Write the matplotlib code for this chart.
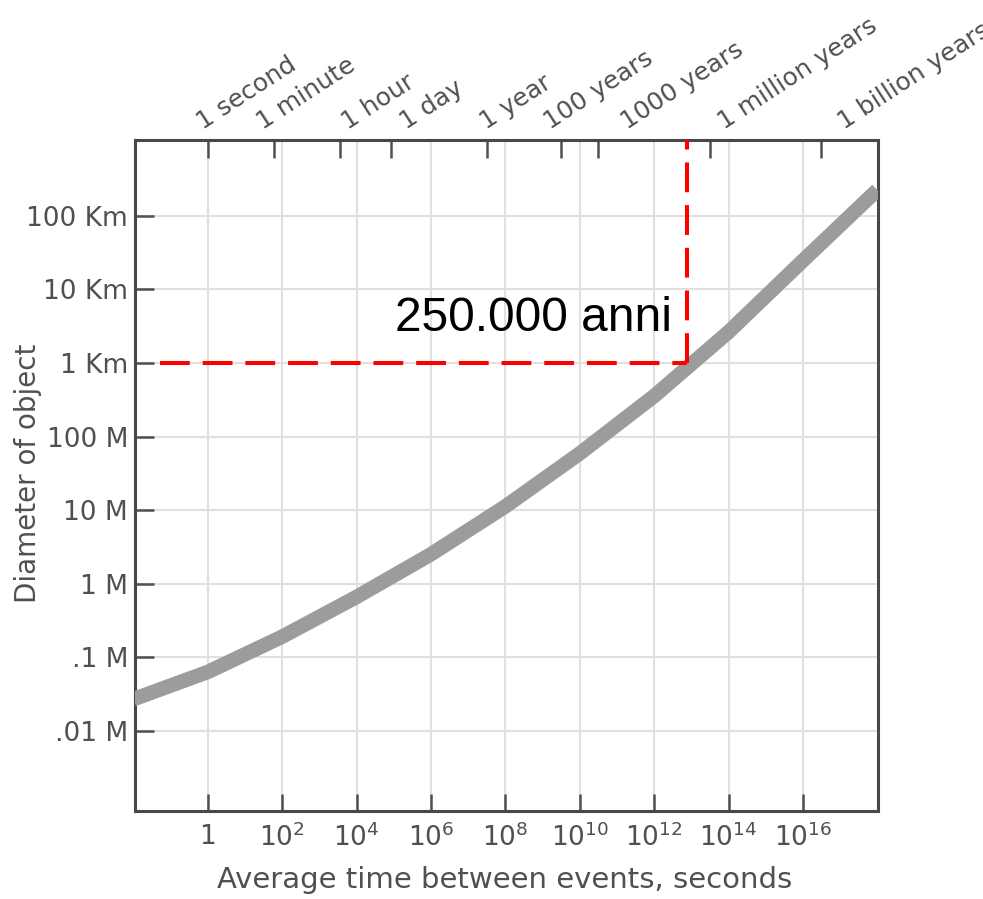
import matplotlib
matplotlib.use('Agg')
import matplotlib.pyplot as plt

# curve: average time between events (s) vs diameter (m)
time_s = [1e-2, 1e0, 1e2, 1e4, 1e6, 1e8, 1e10, 1e12, 1e14, 1e16, 1e18]
diam_m = [10**-1.57, 10**-1.20, 10**-0.72, 10**-0.18, 10**0.40, 10**1.05,
          10**1.77, 10**2.55, 10**3.42, 10**4.39, 10**5.35]

# bottom axis ticks
x_ticks = [1e0, 1e2, 1e4, 1e6, 1e8, 1e10, 1e12, 1e14, 1e16]
x_labels = ['1', '$10^{2}$', '$10^{4}$', '$10^{6}$', '$10^{8}$', '$10^{10}$',
            '$10^{12}$', '$10^{14}$', '$10^{16}$']

# left axis ticks (metres)
y_ticks = [1e5, 1e4, 1e3, 1e2, 1e1, 1e0, 1e-1, 1e-2]
y_labels = ['100 Km', '10 Km', '1 Km', '100 M', '10 M', '1 M', '.1 M', '.01 M']

# top axis: human time spans in seconds
year = 3.156e7
top_ticks = [1, 60, 3600, 86400, year, 100 * year, 1000 * year, 1e6 * year, 1e9 * year]
top_labels = ['1 second', '1 minute', '1 hour', '1 day', '1 year', '100 years',
              '1000 years', '1 million years', '1 billion years']
# small hand placed nudges of the top labels (points)
top_nudge = [-3.6, -7.9, 5.8, 10.8, 0.0, -7.9, 20.9, 10.1, 16.6]

# highlighted event
event_t = 250000 * year
event_d = 1e3
event_text = '250.000 anni'

grey = '#505050'
plt.rcParams['font.family'] = 'DejaVu Sans'
plt.rcParams['mathtext.fontset'] = 'dejavusans'

fig = plt.figure(figsize=(9.83, 8.99), dpi=100)
ax = fig.add_axes([135 / 983, 1 - 811 / 899, (878 - 135) / 983, (811 - 140) / 899])
ax.set_xscale('log')
ax.set_yscale('log')
ax.set_xlim(10**-1.96, 10**18.02)
ax.set_ylim(10**-3.09, 10**6.03)

# grid
for t in x_ticks:
    ax.axvline(t, color='#e0e0e0', lw=1.5, zorder=0)
for d in y_ticks:
    ax.axhline(d, color='#e0e0e0', lw=1.5, zorder=0)

# the curve
ax.plot(time_s, diam_m, color='#9c9c9c', lw=10.5, solid_capstyle='butt',
        solid_joinstyle='round', zorder=3)

# red dashed guide lines
red_style = (0, (7.4, 3.2))
ax.plot([0.05, event_t], [event_d, event_d], color='#ff0000', lw=2.9,
        linestyle=red_style, zorder=4)
ax.plot([event_t, event_t], [event_d, ax.get_ylim()[1]], color='#ff0000', lw=2.9,
        linestyle=red_style, zorder=4)
ax.annotate(event_text, xy=(event_t, event_d), xytext=(-11, 32),
            textcoords='offset points', ha='right', va='center',
            fontsize=34.5, family='Liberation Sans', color='black')

ax.set_xticks(x_ticks)
ax.set_xticklabels(x_labels)
ax.set_yticks(y_ticks)
ax.set_yticklabels(y_labels)
ax.minorticks_off()
ax.tick_params(axis='x', direction='in', length=12, width=1.8, color=grey,
               labelsize=19, labelcolor=grey, pad=9)
ax.tick_params(axis='y', direction='in', length=14, width=1.8, color=grey,
               labelsize=19, labelcolor=grey, pad=5)
for s in ax.spines.values():
    s.set_color('#484848')
    s.set_linewidth(2.2)

ax.set_xlabel('Average time between events, seconds', fontsize=21, color=grey)
ax.xaxis.set_label_coords(0.497, -0.082)
ax.set_ylabel('Diameter of object', fontsize=20, color=grey, va='center')
ax.yaxis.set_label_coords(-0.144, 0.504)

# top axis with time spans
top = ax.secondary_xaxis('top')
top.set_xticks(top_ticks)
top.set_xticklabels([''] * len(top_ticks))
top.minorticks_off()
top.tick_params(direction='in', length=13, width=1.8, color=grey)
top.spines['top'].set_visible(False)
for t, lab, dx in zip(top_ticks, top_labels, top_nudge):
    ax.annotate(lab, xy=(t, 1), xycoords=('data', 'axes fraction'),
                xytext=(dx, 7), textcoords='offset points', rotation=33,
                rotation_mode='anchor', ha='left', va='baseline',
                fontsize=18, color=grey, annotation_clip=False)

fig.savefig('out.png', dpi=100, facecolor='white')
